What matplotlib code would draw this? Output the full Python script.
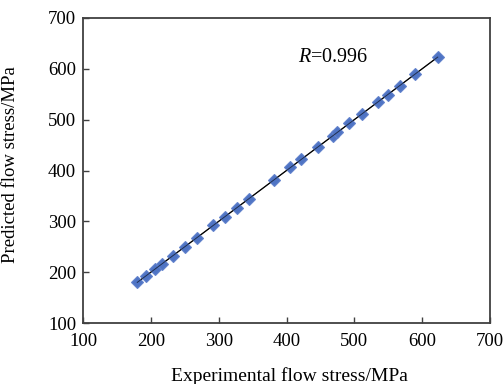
import matplotlib
matplotlib.use('Agg')
import matplotlib.pyplot as plt
import numpy as np

plt.rcParams['font.family'] = ['Liberation Serif', 'DejaVu Serif']
plt.rcParams['mathtext.fontset'] = 'custom'
plt.rcParams['mathtext.it'] = 'Liberation Serif:italic'
plt.rcParams['mathtext.rm'] = 'Liberation Serif'

# experimental vs predicted flow stress (MPa)
exp_stress = [180, 193, 206, 217, 233, 251, 268, 292, 309, 327, 344, 381,
              405, 422, 446, 468, 475, 492, 511, 535, 549, 567, 590, 623]
pred_stress = [181, 192, 206, 217, 232, 250, 268, 292, 309, 327, 344, 381,
               406, 423, 446, 468, 475, 493, 511, 535, 549, 567, 589, 623]
r_value = 0.996

x = np.array(exp_stress)
y = np.array(pred_stress)
k, b = np.polyfit(x, y, 1)
xf = np.array([x.min(), x.max()])

fig = plt.figure(figsize=(5.04, 3.84), dpi=100)
ax = fig.add_axes([83/504., 1-323/384., 407/504., 305/384.])

ax.plot(xf, k*xf+b, color='black', lw=0.9, zorder=2)
ax.plot(x, y, 'D', ms=6.2, color='#4f74c4', mec='#6282cc', mew=0.8, zorder=3)
# redraw the line on top faintly, as in the original the line shows through markers
ax.plot(xf, k*xf+b, color='black', lw=0.7, alpha=0.6, zorder=4)

ax.set_xlim(100, 700)
ax.set_ylim(100, 700)
ax.set_xticks(np.arange(100, 701, 100))
ax.set_yticks(np.arange(100, 701, 100))
ax.tick_params(direction='in', length=4, width=1, labelsize=13.5, color='#404040')
ax.tick_params(axis='x', pad=7)
ax.tick_params(axis='y', pad=5)
for s in ax.spines.values():
    s.set_color('#404040')
    s.set_linewidth(1.3)

ax.text(0.528, 0.869, r'$R$=%.3f' % r_value, transform=ax.transAxes,
        fontsize=14.5, va='center', ha='left')
ax.set_xlabel('Experimental flow stress/MPa', fontsize=14)
ax.set_ylabel('Predicted flow stress/MPa', fontsize=13.5)
ax.xaxis.set_label_coords(0.506, -0.174)
ax.yaxis.set_label_coords(-0.179, 0.518)
ax.xaxis.label.set_va('center')
ax.yaxis.label.set_va('center')

fig.savefig('out.png', dpi=100)
